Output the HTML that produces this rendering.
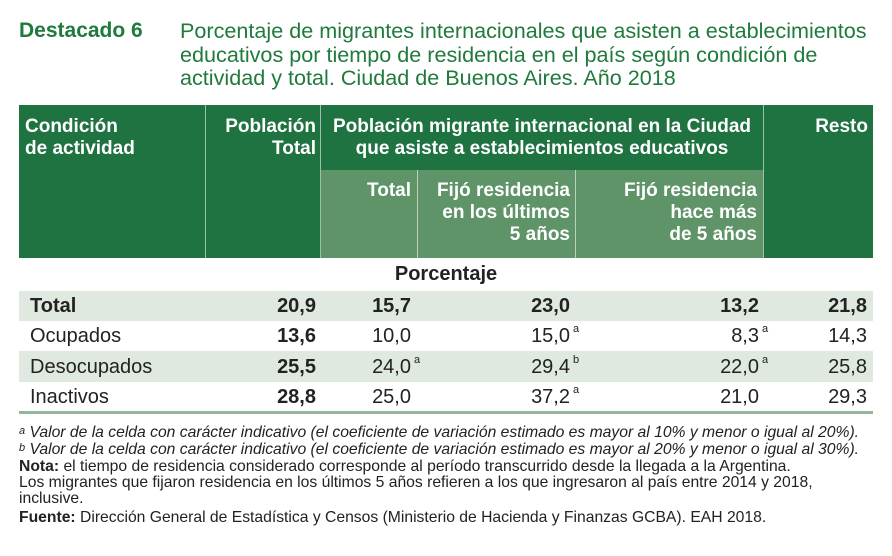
<!DOCTYPE html>
<html><head><meta charset="utf-8"><style>
body{margin:0;width:892px;height:556px;background:#fff;position:relative;font-family:"Liberation Sans Narrow","Liberation Sans",sans-serif;overflow:hidden}
.a{position:absolute;white-space:nowrap}
.g{color:#1f7a3c}
.hd{position:absolute;color:#fff;font-weight:bold;font-size:19px;line-height:22px;white-space:nowrap}
.v{position:absolute;font-size:20px;color:#222;white-space:nowrap}
.b{font-weight:bold}
sup{font-size:11px;position:relative;top:-2px;vertical-align:top;margin-left:3px}
.fn{position:absolute;left:19px;font-size:15.7px;line-height:16px;color:#222;white-space:nowrap}
</style></head><body>
<div class="a g" style="left:19px;top:19px;font-size:21px;font-weight:bold">Destacado 6</div>
<div class="a g" style="left:180px;top:19px;font-size:21.6px;line-height:23.5px">Porcentaje de migrantes internacionales que asisten a establecimientos<br>educativos por tiempo de residencia en el país según condición de<br>actividad y total. Ciudad de Buenos Aires. Año 2018</div>

<div class="a" style="left:19px;top:105px;width:854px;height:153px;background:#1f7340"></div>
<div class="a" style="left:321px;top:170px;width:442px;height:88px;background:#5f9468"></div>
<div class="a" style="left:205px;top:105px;width:1px;height:153px;background:#9fc0a6"></div>
<div class="a" style="left:320px;top:105px;width:1px;height:153px;background:#9fc0a6"></div>
<div class="a" style="left:763px;top:105px;width:1px;height:153px;background:#9fc0a6"></div>
<div class="a" style="left:417px;top:170px;width:1px;height:88px;background:#b9d1bd"></div>
<div class="a" style="left:575px;top:170px;width:1px;height:88px;background:#b9d1bd"></div>

<div class="hd" style="left:25px;top:116px">Condición<br>de actividad</div>
<div class="hd" style="right:576px;top:116px;text-align:right">Población<br>Total</div>
<div class="hd" style="left:321px;width:442px;top:116px;text-align:center">Población migrante internacional en la Ciudad<br>que asiste a establecimientos educativos</div>
<div class="hd" style="right:24px;top:116px">Resto</div>
<div class="hd" style="right:481px;top:180px">Total</div>
<div class="hd" style="right:322px;top:180px;text-align:right">Fijó residencia<br>en los últimos<br>5 años</div>
<div class="hd" style="right:135px;top:180px;text-align:right">Fijó residencia<br>hace más<br>de 5 años</div>

<div class="a" style="left:19px;width:854px;top:263px;text-align:center;font-size:20px;font-weight:bold;color:#222">Porcentaje</div>

<div class="a" style="left:19px;top:291px;width:854px;height:30px;background:#dfe9df"></div>
<div class="a" style="left:19px;top:351px;width:854px;height:31px;background:#dfe9df"></div>
<div class="a" style="left:19px;top:411px;width:854px;height:3px;background:#8fb898"></div>

<div id="rows"></div>

<div class="fn" style="top:425px;font-style:italic"><sup style="margin:0">a</sup> Valor de la celda con carácter indicativo (el coeficiente de variación estimado es mayor al 10% y menor o igual al 20%).</div>
<div class="fn" style="top:442px;font-style:italic"><sup style="margin:0">b</sup> Valor de la celda con carácter indicativo (el coeficiente de variación estimado es mayor al 20% y menor o igual al 30%).</div>
<div class="fn" style="top:459px"><b>Nota:</b> el tiempo de residencia considerado corresponde al período transcurrido desde la llegada a la Argentina.<br>Los migrantes que fijaron residencia en los últimos 5 años refieren a los que ingresaron al país entre 2014 y 2018,<br>inclusive.</div>
<div class="fn" style="top:510px"><b>Fuente:</b> Dirección General de Estadística y Censos (Ministerio de Hacienda y Finanzas GCBA). EAH 2018.</div>

<script>
const categories=["Total","Ocupados","Desocupados","Inactivos"];
const poblacionTotal=["20,9","13,6","25,5","28,8"];
const migranteTotal=["15,7","10,0","24,0","25,0"];
const ultimos5=["23,0","15,0","29,4","37,2"];
const mas5=["13,2","8,3","22,0","21,0"];
const resto=["21,8","14,3","25,8","29,3"];
const notesTotal=["","","a",""];
const notesUlt=["","a","b","a"];
const notesMas=["","a","a",""];
const rowsEl=document.getElementById('rows');
const rowTop=i=>295+i*30.3;
function cell(txt,right,top,bold,note,name){
  const d=document.createElement('div');
  d.className='v'+(bold?' b':'');
  
  
  d.style.top=top+'px';
  d.style.right=(892-right)+'px';
  d.textContent=txt;
  if(note){const s=document.createElement('sup');s.textContent=note;s.style.position='absolute';s.style.left='100%';d.appendChild(s);}
  rowsEl.appendChild(d);
}
categories.forEach((c,i)=>{
  const t=rowTop(i),bt=i===0;
  const l=document.createElement('div');
  l.className='v'+(bt?' b':'');
  
  
  l.style.left='30px';l.style.top=t+'px';l.textContent=c;
  rowsEl.appendChild(l);
  cell(poblacionTotal[i],316,t,true,'','poblacion-total-value');
  cell(migranteTotal[i],411,t,bt,notesTotal[i],'migrante-total-value');
  cell(ultimos5[i],570,t,bt,notesUlt[i],'ultimos-5-value');
  cell(mas5[i],759,t,bt,notesMas[i],'mas-5-value');
  cell(resto[i],867,t,bt,'','resto-value');
});
</script>
</body></html>
